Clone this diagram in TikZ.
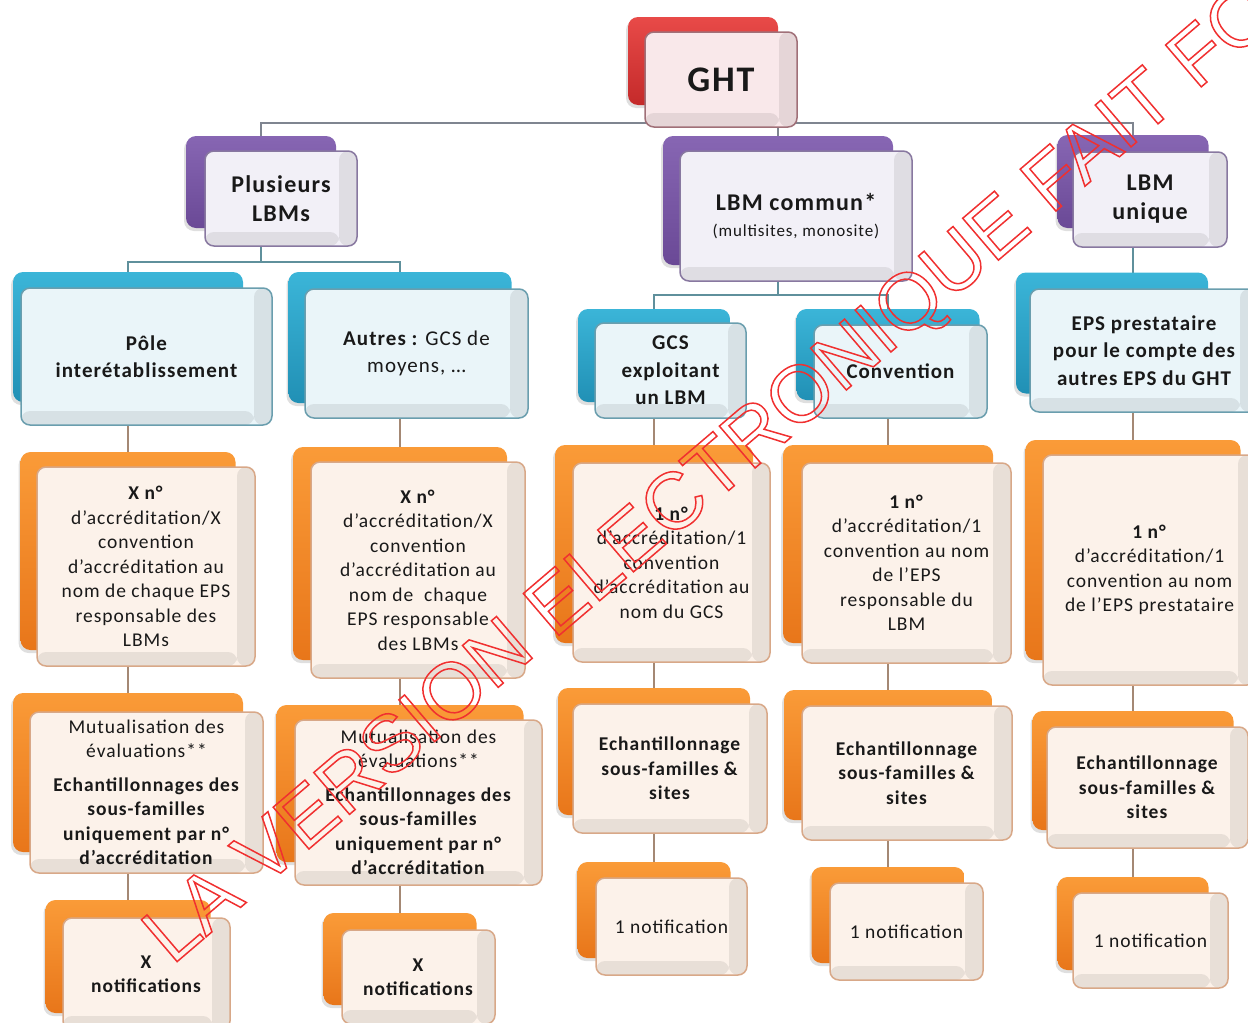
\documentclass[tikz,border=0pt]{standalone}
\usepackage{fontspec}
\setmainfont{Carlito}[LetterSpace=5]
\newfontfamily\stampfont{Liberation Sans}
\usepackage{tikz}
\usetikzlibrary{positioning,backgrounds,shadows}

\definecolor{redtop}{HTML}{E84A48}
\definecolor{redbot}{HTML}{C42A2A}
\definecolor{ghtfill}{HTML}{F9E8EA}
\definecolor{ghtline}{HTML}{A07078}
\definecolor{purtop}{HTML}{8766B3}
\definecolor{purbot}{HTML}{6A4996}
\definecolor{purfill}{HTML}{F2F0F7}
\definecolor{purline}{HTML}{8878A0}
\definecolor{blutop}{HTML}{3BB5D8}
\definecolor{blubot}{HTML}{2190B5}
\definecolor{blufill}{HTML}{EAF5F9}
\definecolor{bluline}{HTML}{6A9EAE}
\definecolor{orgtop}{HTML}{FA9B38}
\definecolor{orgbot}{HTML}{E8761A}
\definecolor{orgfill}{HTML}{FCF2EA}
\definecolor{orgline}{HTML}{D8A888}
\definecolor{ghtlink}{HTML}{7F8590}
\definecolor{purlink}{HTML}{5F909C}
\definecolor{orglink}{HTML}{A48874}
\definecolor{stampred}{HTML}{F03030}

\begin{document}
\begin{tikzpicture}[x=1pt,y=-1pt, wh/.style 2 args={minimum width=#1pt,minimum height=#2pt}]
\tikzstyle{tab}=[rounded corners=10pt, inner sep=0pt, drop shadow={shadow xshift=-2pt,shadow yshift=-3pt,opacity=0.25}]
\tikzstyle{redtab}=[tab, top color=redtop, bottom color=redbot]
\tikzstyle{purtab}=[tab, top color=purtop, bottom color=purbot]
\tikzstyle{blutab}=[tab, top color=blutop, bottom color=blubot]
\tikzstyle{orgtab}=[tab, top color=orgtop, bottom color=orgbot]
\tikzstyle{card}=[rounded corners=9pt, line width=1.5pt, inner sep=0pt, align=center, text=black!90,
  path picture={\fill[black,opacity=0.08] ([xshift=-18pt]path picture bounding box.north east) rectangle (path picture bounding box.south east);
  \fill[black,opacity=0.08] (path picture bounding box.south west) rectangle ([xshift=-18pt,yshift=14pt]path picture bounding box.south east);}]
\tikzstyle{ghtcard}=[card, draw=ghtline, fill=ghtfill, font=\bfseries\fontsize{36}{40}\selectfont]
\tikzstyle{purcard}=[card, draw=purline, fill=purfill, font=\bfseries\fontsize{24}{29}\selectfont]
\tikzstyle{blucard}=[card, draw=bluline, fill=blufill, font=\bfseries\fontsize{21}{27.5}\selectfont]
\tikzstyle{orgcard}=[card, draw=orgline, fill=orgfill, font=\fontsize{19.5}{24.5}\selectfont]
\tikzstyle{ghtlk}=[draw=ghtlink, line width=2pt]
\tikzstyle{purlk}=[draw=purlink, line width=2pt]
\tikzstyle{orglk}=[draw=orglink, line width=2pt]
\useasboundingbox (0,0) rectangle (1248,1023);

% top
\node[redtab, wh={150}{88}] (ght) at (703,61) {};
\node[ghtcard, wh={152}{95}] (ghtc) at (721,79.5) {GHT};

% second row
\node[purtab, wh={150}{92}] (plus) at (261,182) {};
\node[purcard, wh={152}{95}] (plusc) at (281,198.5) {Plusieurs\\LBMs};
\node[purtab, wh={230}{129}] (lbmc) at (778,200.5) {};
\node[purcard, wh={232}{130}] (lbmcc) at (796,216) {LBM commun*\\[-3pt]{\mdseries\fontsize{17}{20}\selectfont(multisites, monosite)}};
\node[purtab, wh={151}{93}] (lbmu) at (1133,181.5) {};
\node[purcard, wh={154}{95}] (lbmuc) at (1150,199.5) {LBM\\unique};

% structures
\node[blutab, wh={230}{130}] (pole) at (128,337) {};
\node[blucard, wh={251}{137}] (polec) at (146.5,356.5) {Pôle\\interétablissement};
\node[blutab, wh={223}{131}] (autres) at (400,337.5) {};
\node[blucard, wh={223}{129}] (autresc) at (416.5,353.5) {Autres : {\mdseries GCS de}\\{\mdseries moyens, \ldots}};
\node[blutab, wh={152}{93}] (gcs) at (654,355.5) {};
\node[blucard, wh={151}{95}] (gcsc) at (670.5,370.5) {GCS\\exploitant\\un LBM};
\node[blutab, wh={183}{91}] (conv) at (888,354.5) {};
\node[blucard, wh={173}{93}] (convc) at (900.5,371.5) {Convention};
\node[blutab, wh={192}{121}] (eps) at (1112,333) {};
\node[blucard, wh={228}{123}] (epsc) at (1144,350.5) {EPS prestataire\\pour le compte des\\autres EPS du GHT};

% accreditation
\node[orgtab, wh={215}{198}] (acc1) at (128,551) {};
\node[orgcard, wh={218}{199}] (acc1c) at (146,566.5) {\textbf{X n°}\\d'accréditation/X\\convention\\d'accréditation au\\nom de chaque EPS\\responsable des\\LBMs};
\node[orgtab, wh={214}{213}] (acc2) at (400,553.5) {};
\node[orgcard, wh={214}{216}] (acc2c) at (418,570) {\textbf{X n°}\\d'accréditation/X\\convention\\d'accréditation au\\nom de~ chaque\\EPS responsable\\des LBMs};
\node[orgtab, wh={198}{198}] (acc3) at (654,544) {};
\node[orgcard, wh={197}{199}] (acc3c) at (671.5,562.5) {\textbf{1 n°}\\d'accréditation/1\\convention\\d'accréditation au\\nom du GCS};
\node[orgtab, wh={210}{198}] (acc4) at (888,544) {};
\node[orgcard, wh={209}{200}] (acc4c) at (906.5,563) {\textbf{1 n°}\\d'accréditation/1\\convention au nom\\de l'EPS\\responsable du\\LBM};
\node[orgtab, wh={215}{220}] (acc5) at (1133,550) {};
\node[orgcard, wh={213}{230}] (acc5c) at (1149.5,570) {\textbf{1 n°}\\d'accréditation/1\\convention au nom\\de l'EPS prestataire};

% evaluations
\node[orgtab, wh={230}{159}] (mut1) at (128,772.5) {};
\node[orgcard, wh={233}{161}] (mut1c) at (146.5,792.5) {Mutualisation des\\évaluations**\\[9pt]\textbf{Echantillonnages des}\\\textbf{sous-familles}\\\textbf{uniquement par n°}\\\textbf{d'accréditation}};
\node[orgtab, wh={247}{157}] (mut2) at (400,783.5) {};
\node[orgcard, wh={247}{165}] (mut2c) at (418.5,802.5) {Mutualisation des\\évaluations**\\[9pt]\textbf{Echantillonnages des}\\\textbf{sous-familles}\\\textbf{uniquement par n°}\\\textbf{d'accréditation}};
\node[orgtab, wh={192}{127}] (ech3) at (654,751.5) {};
\node[orgcard, wh={194}{129}] (ech3c) at (670,768.5) {\textbf{Echantillonnage}\\\textbf{sous-familles \&}\\\textbf{sites}};
\node[orgtab, wh={208}{130}] (ech4) at (888,755) {};
\node[orgcard, wh={210}{134}] (ech4c) at (907,773) {\textbf{Echantillonnage}\\\textbf{sous-familles \&}\\\textbf{sites}};
\node[orgtab, wh={201}{119}] (ech5) at (1133,770.5) {};
\node[orgcard, wh={201}{121}] (ech5c) at (1147.5,787.5) {\textbf{Echantillonnage}\\\textbf{sous-familles \&}\\\textbf{sites}};

% notifications
\node[orgtab, wh={165}{113}] (not1) at (128,956.5) {};
\node[orgcard, wh={167}{112}] (not1c) at (146.5,974) {\textbf{X}\\\textbf{notifications}};
\node[orgtab, wh={153}{92}] (not2) at (400,959) {};
\node[orgcard, wh={153}{94}] (not2c) at (418.5,977) {\textbf{X}\\\textbf{notifications}};
\node[orgtab, wh={153}{96}] (not3) at (654,910) {};
\node[orgcard, wh={151}{97}] (not3c) at (671.5,926.5) {1 notification};
\node[orgtab, wh={153}{96}] (not4) at (888,915) {};
\node[orgcard, wh={153}{97}] (not4c) at (906.5,931.5) {1 notification};
\node[orgtab, wh={151}{93}] (not5) at (1133,923.5) {};
\node[orgcard, wh={155}{95}] (not5c) at (1150.5,940.5) {1 notification};

\coordinate (bus0) at (0,123);
\coordinate (bus1) at (0,262);
\coordinate (bus2) at (0,295);

\begin{scope}[on background layer]
\draw[ghtlk] (ght) -- (ght |- bus0);
\draw[ghtlk] (plus) |- (ght |- bus0) -| (lbmu);
\draw[ghtlk] (lbmc) -- (lbmc |- bus0);
\draw[purlk] (plus) -- (plus |- bus1);
\draw[purlk] (pole) |- (plus |- bus1) -| (autres);
\draw[purlk] (lbmc) -- (lbmc |- bus2);
\draw[purlk] (gcs) |- (lbmc |- bus2) -| (conv);
\draw[purlk] (lbmu) -- (lbmu |- eps);
\draw[orglk] (pole) -- (acc1) -- (mut1) -- (not1);
\draw[orglk] (autres) -- (acc2) -- (mut2) -- (not2);
\draw[orglk] (gcs) -- (acc3) -- (ech3) -- (not3);
\draw[orglk] (conv) -- (acc4) -- (ech4) -- (not4);
\draw[orglk] (lbmu |- eps) -- (acc5) -- (ech5) -- (not5);
\end{scope}

% watermark
\node[anchor=base west, rotate=40.5, inner sep=0pt, text=stampred, font=\stampfont\fontsize{80}{80}\selectfont] (stamp) at (172,966)
  {\special{pdf:literal direct 1 Tr 1.5 w}LA VERSION ELECTRONIQUE FAIT FOI\special{pdf:literal direct 0 Tr}};
\end{tikzpicture}
\end{document}
